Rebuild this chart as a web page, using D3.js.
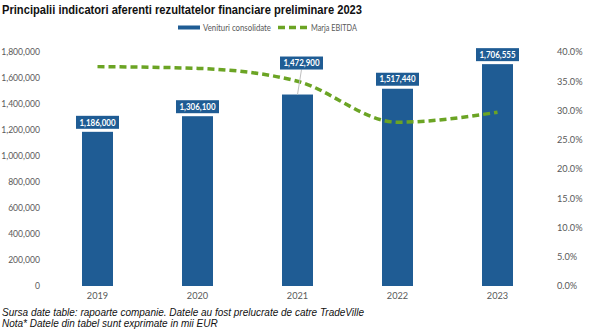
<!DOCTYPE html>
<html><head><meta charset="utf-8">
<script src="https://cdn.jsdelivr.net/npm/d3@7"></script>
<style>body{margin:0;background:#fff}svg{display:block}</style>
</head><body><svg id="c" width="600" height="330"></svg>
<script>
const years = ["2019","2020","2021","2022","2023"];
const revenues = [1186000, 1306100, 1472900, 1517440, 1706555];
const ebitdaMargin = [37.5, 37.2, 35.0, 28.0, 29.7];
const leftTicks = [0,200000,400000,600000,800000,1000000,1200000,1400000,1600000,1800000];
const rightTicks = [0,5,10,15,20,25,30,35,40];
const seriesNames = ["Venituri consolidate","Marja EBITDA"];
const title = "Principalii indicatori aferenti rezultatelor financiare preliminare 2023";
const notes = ["Sursa date table: rapoarte companie. Datele au fost prelucrate de catre TradeVille",
               "Nota* Datele din tabel sunt exprimate in mii EUR"];

const svg = d3.select("#c");
const blue = "#1f5c94", green = "#6ba424", grey = "#595959";
const x = d3.scaleBand().domain(years).range([47.5, 547.5]).paddingInner(0.69).paddingOuter(0.345);
const yL = d3.scaleLinear().domain([0, 1800000]).range([286, 52]);
const yR = d3.scaleLinear().domain([0, 40]).range([286, 52]);
const fmt = d3.format(",");
const axFont = "Lato, 'Open Sans', sans-serif";

svg.append("text").attr("x", 2).attr("y", 14).text(title)
  .attr("font-family", "'Liberation Sans', Arial, sans-serif").attr("font-weight", "bold")
  .attr("font-size", 12.5).attr("fill", "#111").attr("textLength", 360).attr("lengthAdjust", "spacingAndGlyphs");

// legend
const lg = svg.append("g").attr("font-family", axFont).attr("font-size", 9).attr("fill", grey);
lg.append("rect").attr("x", 178).attr("y", 25.5).attr("width", 22).attr("height", 4).attr("fill", blue);
lg.append("text").attr("x", 203).attr("y", 30.5).text(seriesNames[0])
  .attr("textLength", 68).attr("lengthAdjust", "spacingAndGlyphs");
lg.append("line").attr("x1", 278).attr("x2", 309).attr("y1", 27.5).attr("y2", 27.5)
  .attr("stroke", green).attr("stroke-width", 3.5).attr("stroke-dasharray", "7,4");
lg.append("text").attr("x", 311).attr("y", 30.5).text(seriesNames[1])
  .attr("textLength", 46).attr("lengthAdjust", "spacingAndGlyphs");

// axes
const la = svg.append("g").attr("transform", "translate(40,0)")
  .call(d3.axisLeft(yL).tickValues(leftTicks).tickFormat(fmt).tickSize(0).tickPadding(0));
const ra = svg.append("g").attr("transform", "translate(557,0)")
  .call(d3.axisRight(yR).tickValues(rightTicks).tickFormat(d => d.toFixed(1) + "%").tickSize(0).tickPadding(0));
const xa = svg.append("g").attr("transform", "translate(0,292)")
  .call(d3.axisBottom(x).tickSize(0).tickPadding(0));
[la, ra, xa].forEach(a => {
  a.select(".domain").remove();
  a.selectAll("text").attr("font-family", axFont).attr("font-size", 9.2).attr("fill", grey);
});
la.selectAll("text").attr("font-size", 8.6);

// bars
svg.append("g").selectAll("rect").data(years).join("rect")
  .attr("x", d => x(d)).attr("width", x.bandwidth())
  .attr("y", (d, i) => yL(revenues[i])).attr("height", (d, i) => 286 - yL(revenues[i]))
  .attr("fill", blue);

// line
const line = d3.line().x((d, i) => x(years[i]) + x.bandwidth() / 2).y(d => yR(d)).curve(d3.curveMonotoneX);
svg.append("path").datum(ebitdaMargin).attr("d", line).attr("fill", "none")
  .attr("stroke", green).attr("stroke-width", 3.5).attr("stroke-dasharray", "7,4");

// labels
const bw = 43, bh = 13;
const lbl = svg.append("g");
years.forEach((yr, i) => {
  const cx = x(yr) + x.bandwidth() / 2;
  const top = yL(revenues[i]);
  let bx = cx, by = top - 3 - bh;
  if (i === 2) {
    bx = cx + 4; by = yL(revenues[i]) - 38;
    lbl.append("line").attr("x1", cx).attr("y1", top).attr("x2", bx).attr("y2", by + bh)
      .attr("stroke", "#bfbfbf").attr("stroke-width", 1);
  }
  lbl.append("rect").attr("x", bx - bw / 2).attr("y", by).attr("width", bw).attr("height", bh).attr("fill", blue);
  lbl.append("text").attr("x", bx).attr("y", by + bh / 2 + 3.2).attr("text-anchor", "middle")
    .attr("font-family", axFont).attr("font-size", 9).attr("font-weight", "bold").attr("fill", "#fff")
    .attr("textLength", 36).attr("lengthAdjust", "spacingAndGlyphs")
    .text(fmt(revenues[i]));
});

// notes
notes.forEach((t, i) => {
  svg.append("text").attr("x", 2).attr("y", 316 + i * 11).text(t)
    .attr("font-family", "'Liberation Sans', Arial, sans-serif").attr("font-style", "italic")
    .attr("font-size", 10).attr("fill", "#111");
});
</script></body></html>
